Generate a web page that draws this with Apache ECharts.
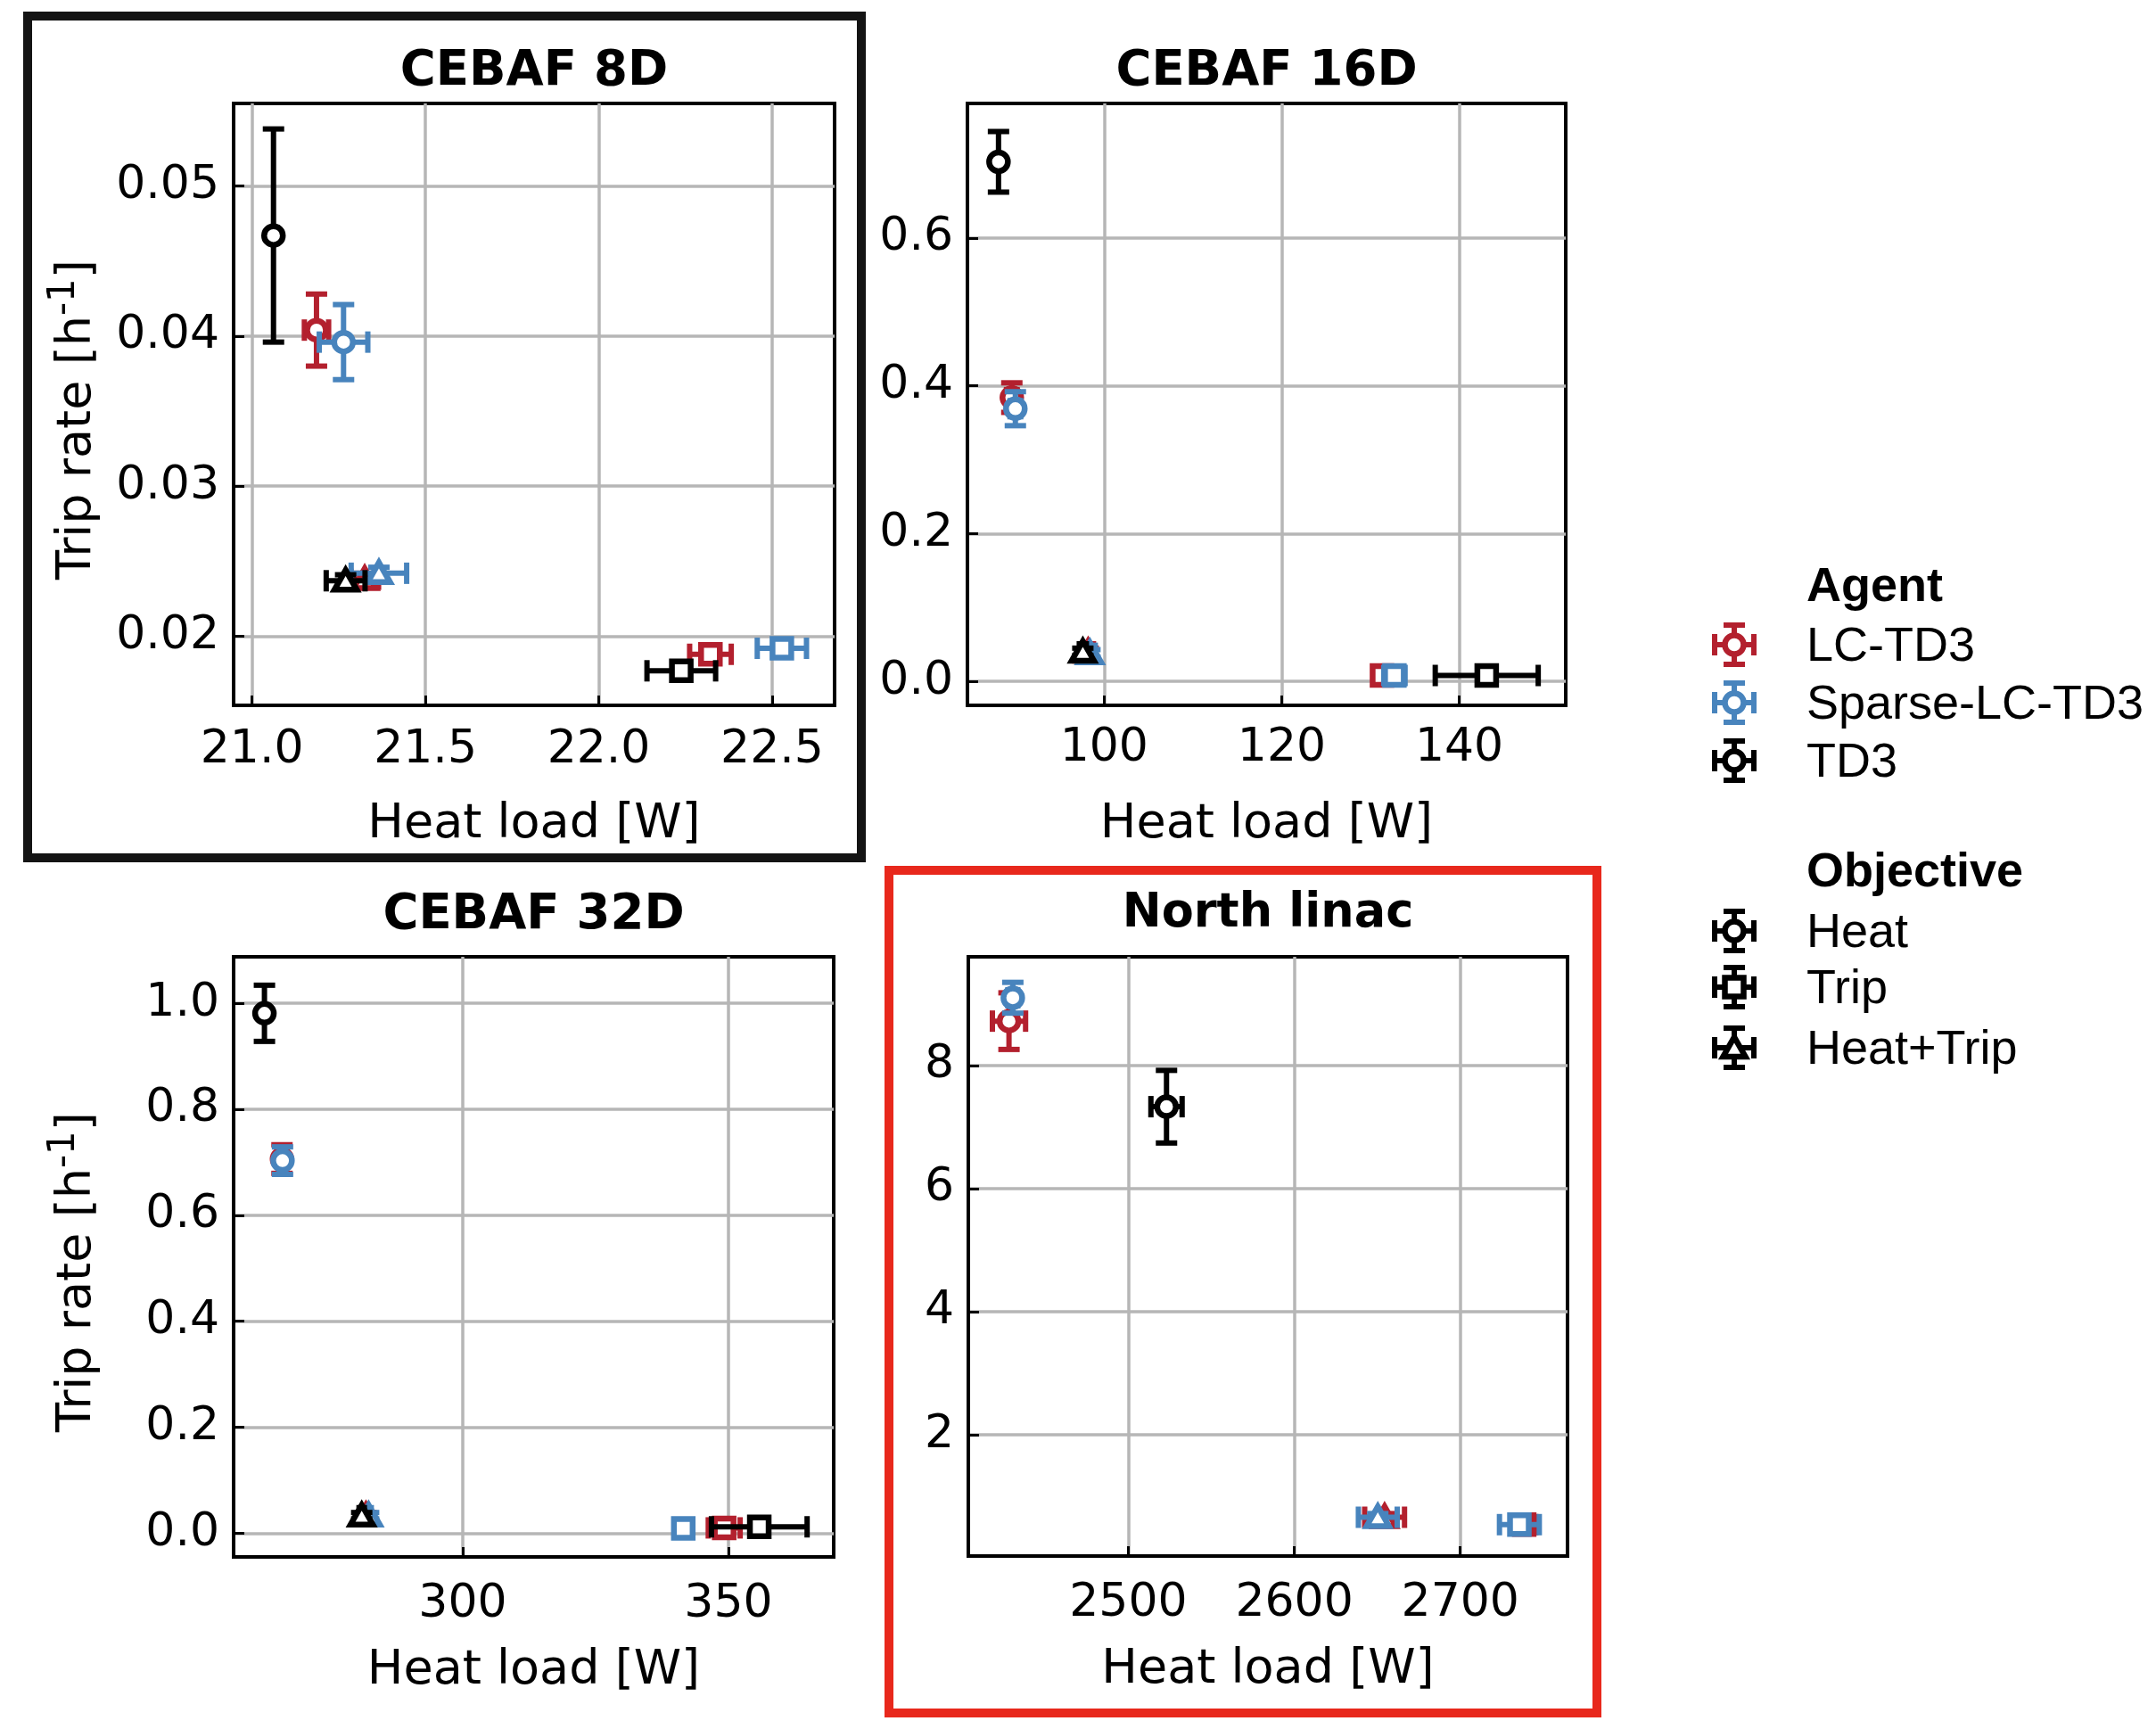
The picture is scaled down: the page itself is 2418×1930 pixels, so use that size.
<!DOCTYPE html>
<html>
<head>
<meta charset="utf-8">
<script src="https://cdn.jsdelivr.net/npm/echarts@6/dist/echarts.min.js"></script>
<style>
  html, body { margin: 0; padding: 0; background: #ffffff; }
  #chart { width: 2418px; height: 1930px; }
</style>
</head>
<body>
<div id="chart"></div>
<script>
// ---- data -------------------------------------------------------------
const AGENTS = ['LC-TD3', 'Sparse-LC-TD3', 'TD3'];
const OBJECTIVES = ['Heat', 'Trip', 'Heat+Trip'];
const PANELS = ['CEBAF 8D', 'CEBAF 16D', 'CEBAF 32D', 'North linac'];

// rows: [heat load (W), trip rate (1/h), heat-load error, trip-rate error]
// row order follows OBJECTIVES: Heat, Trip, Heat+Trip (null = not run)
const cebaf8d_LC       = [[21.186, 0.0404, 0.035, 0.0024], [22.322, 0.0188, 0.060, 0.0004], [21.325, 0.0238, 0.040, 0.0004]];
const cebaf8d_Sparse   = [[21.264, 0.0396, 0.070, 0.0025], [22.528, 0.0192, 0.071, 0.0004], [21.366, 0.0242, 0.080, 0.0004]];
const cebaf8d_TD3      = [[21.062, 0.0467, 0.010, 0.0071], [22.238, 0.0177, 0.099, 0.0004], [21.270, 0.0237, 0.056, 0.0004]];

const cebaf16d_LC      = [[89.6, 0.384, 0.6, 0.020], [131.3, 0.008, 1.0, 0.004], [98.2, 0.040, 0.6, 0.005]];
const cebaf16d_Sparse  = [[90.0, 0.369, 0.6, 0.023], [132.7, 0.008, 1.2, 0.004], [98.4, 0.038, 0.6, 0.005]];
const cebaf16d_TD3     = [[88.1, 0.703, 0.3, 0.041], [143.1, 0.008, 5.8, 0.004], [97.6, 0.040, 0.4, 0.005]];

const cebaf32d_LC      = [[266.0, 0.706, 0.6, 0.027], [349.2, 0.010, 3.0, 0.004], [281.8, 0.033, 0.5, 0.006]];
const cebaf32d_Sparse  = [[266.1, 0.703, 0.6, 0.026], [341.5, 0.009, 0.8, 0.004], [282.3, 0.033, 0.5, 0.006]];
const cebaf32d_TD3     = [[262.7, 0.981, 0.4, 0.053], [355.8, 0.012, 9.0, 0.004], [281.0, 0.033, 0.5, 0.006]];

const northLinac_LC     = [[2428.1, 8.72, 10.0, 0.46], [2738.5, 0.54, 7.0, 0.05], [2654.4, 0.66, 12.0, 0.06]];
const northLinac_Sparse = [[2430.4, 9.10, 3.0, 0.25], [2735.6, 0.54, 12.0, 0.05], [2650.3, 0.66, 11.7, 0.06]];
const northLinac_TD3    = [[2523.0, 7.33, 9.4, 0.59], null, null];

// tick values per panel
const xTicks8d = [21.0, 21.5, 22.0, 22.5];
const yTicks8d = [0.02, 0.03, 0.04, 0.05];
const xTicks16d = [100, 120, 140];
const yTicks16d = [0.0, 0.2, 0.4, 0.6];
const xTicks32d = [300, 350];
const yTicks32d = [0.0, 0.2, 0.4, 0.6, 0.8, 1.0];
const xTicksNL = [2500, 2600, 2700];
const yTicksNL = [2, 4, 6, 8];

// axis extents per panel
const xRange8d = [20.947, 22.68],  yRange8d = [0.0154, 0.0555];
const xRange16d = [84.6, 152.0],   yRange16d = [-0.0324, 0.782];
const xRange32d = [256.9, 369.8],  yRange32d = [-0.0448, 1.0876];
const xRangeNL = [2403.6, 2764.6], yRangeNL = [0.03, 9.765];

// ---- styling ----------------------------------------------------------
const FONT = 'DejaVu Sans';
const LEGEND_FONT = 'Liberation Sans';
const AGENT_COLORS = ['#b3202e', '#4884bd', '#000000'];
const GRID_COLOR = '#b6b6b6';

const panelData = [
  [cebaf8d_LC, cebaf8d_Sparse, cebaf8d_TD3],
  [cebaf16d_LC, cebaf16d_Sparse, cebaf16d_TD3],
  [cebaf32d_LC, cebaf32d_Sparse, cebaf32d_TD3],
  [northLinac_LC, northLinac_Sparse, northLinac_TD3]
];
const panelX = [xTicks8d, xTicks16d, xTicks32d, xTicksNL];
const panelY = [yTicks8d, yTicks16d, yTicks32d, yTicksNL];
const panelXR = [xRange8d, xRange16d, xRange32d, xRangeNL];
const panelYR = [yRange8d, yRange16d, yRange32d, yRangeNL];
const xDecimals = [1, 0, 0, 0];
const yDecimals = [2, 1, 1, 0];

const grids = [
  { left: 262, top: 116, width: 674, height: 675 },
  { left: 1085, top: 116, width: 671, height: 675 },
  { left: 262, top: 1073, width: 673, height: 673 },
  { left: 1086, top: 1073, width: 672, height: 672 }
];
const xNameGap = [107, 107, 101, 101];
const xLabelMargin = [24, 22, 27, 27];
const titleTop = [53, 53, 999, 999];

const MARK_R = 10.5, MARK_LW = 6.5, BAR_LW = 6, CAP = 24;

// hollow marker for an objective
function marker(obj, cx, cy, color) {
  const style = { fill: '#ffffff', stroke: color, lineWidth: MARK_LW };
  if (obj === 0) return { type: 'circle', shape: { cx: cx, cy: cy, r: MARK_R }, style: style };
  if (obj === 1) return { type: 'rect', shape: { x: cx - MARK_R, y: cy - MARK_R, width: 2 * MARK_R, height: 2 * MARK_R }, style: style };
  return { type: 'polygon', shape: { points: [[cx, cy - 12], [cx - 12.5, cy + 10], [cx + 12.5, cy + 10]] }, style: Object.assign({}, style, { lineJoin: 'miter' }) };
}

function seg(x1, y1, x2, y2, color, w) {
  return { type: 'line', shape: { x1: x1, y1: y1, x2: x2, y2: y2 }, style: { stroke: color, lineWidth: w } };
}

// error bars with end caps, followed by the marker
function errorCross(cx, cy, xl, xr, yt, yb, color, obj) {
  const h = CAP / 2;
  const els = [];
  if (xr - xl > 0.5) {
    els.push(seg(xl, cy, xr, cy, color, BAR_LW));
    els.push(seg(xl, cy - h, xl, cy + h, color, BAR_LW));
    els.push(seg(xr, cy - h, xr, cy + h, color, BAR_LW));
  }
  if (yb - yt > 0.5) {
    els.push(seg(cx, yt, cx, yb, color, BAR_LW));
    els.push(seg(cx - h, yt, cx + h, yt, color, BAR_LW));
    els.push(seg(cx - h, yb, cx + h, yb, color, BAR_LW));
  }
  els.push(marker(obj, cx, cy, color));
  return els;
}

function renderPoint(params, api) {
  const x = api.value(0), y = api.value(1), xe = api.value(2), ye = api.value(3), obj = api.value(4);
  const c = api.coord([x, y]);
  const l = api.coord([x - xe, y]), r = api.coord([x + xe, y]);
  const t = api.coord([x, y + ye]), b = api.coord([x, y - ye]);
  const color = api.visual('color');
  return { type: 'group', children: errorCross(c[0], c[1], l[0], r[0], t[1], b[1], color, obj) };
}

// ---- axes, titles, series ---------------------------------------------
const AXIS_LINE = { show: true, onZero: false, lineStyle: { color: '#000', width: 4 } };
const xAxes = [], yAxes = [], titles = [], series = [];
for (let p = 0; p < 4; p++) {
  const g = grids[p];
  xAxes.push({
    type: 'value', gridIndex: p, position: 'bottom',
    min: panelXR[p][0], max: panelXR[p][1],
    name: 'Heat load [W]', nameLocation: 'middle', nameGap: xNameGap[p],
    nameTextStyle: { fontFamily: FONT, fontSize: 54, color: '#000' },
    axisLine: AXIS_LINE,
    axisTick: { show: true, inside: true, length: 11, customValues: panelX[p], lineStyle: { color: '#000', width: 3 } },
    axisLabel: { customValues: panelX[p], margin: xLabelMargin[p], fontFamily: FONT, fontSize: 52, color: '#000',
      formatter: (v) => Number(v).toFixed(xDecimals[p]) },
    splitLine: { show: true, lineStyle: { color: GRID_COLOR, width: 3.5 } }
  });
  const yAx = {
    type: 'value', gridIndex: p, position: 'left',
    min: panelYR[p][0], max: panelYR[p][1],
    axisLine: AXIS_LINE,
    axisTick: { show: true, inside: true, length: 12, customValues: panelY[p], lineStyle: { color: '#000', width: 3 } },
    axisLabel: { customValues: panelY[p], margin: 16, fontFamily: FONT, fontSize: 52, color: '#000',
      formatter: (v) => Number(v).toFixed(yDecimals[p]) },
    splitLine: { show: true, lineStyle: { color: GRID_COLOR, width: 3.5 } }
  };
  if (p === 0 || p === 2) {
    Object.assign(yAx, {
      name: 'Trip rate [h{sup|-1}]', nameLocation: 'middle', nameGap: 139, nameRotate: 90,
      nameTextStyle: {
        fontFamily: FONT, fontSize: 54, color: '#000', lineHeight: 72, padding: [0, 34, 0, 0],
        rich: { sup: { fontFamily: FONT, fontSize: 42, color: '#000', lineHeight: 42, verticalAlign: 'top' } }
      }
    });
  }
  yAxes.push(yAx);
  titles.push({
    text: PANELS[p], left: g.left + g.width / 2, top: titleTop[p], textAlign: 'center', padding: 0,
    textStyle: { fontFamily: FONT, fontSize: p === 3 ? 52.5 : 54.5, fontWeight: 'bold', color: '#000' }
  });
  for (let a = 0; a < AGENTS.length; a++) {
    const rows = panelData[p][a];
    const data = [];
    rows.forEach((row, o) => { if (row) data.push([row[0], row[1], row[2], row[3], o]); });
    series.push({
      type: 'custom', name: PANELS[p] + ' / ' + AGENTS[a],
      xAxisIndex: p, yAxisIndex: p,
      dimensions: ['heat', 'trip', 'heatErr', 'tripErr', 'objective'],
      encode: { x: 0, y: 1 },
      itemStyle: { color: AGENT_COLORS[a] },
      renderItem: renderPoint,
      clip: false,
      data: data
    });
  }
}

// ---- legend (agent colours, objective shapes) and highlight frames ----
const LEG_ICON_X = 1945, LEG_TEXT_X = 2026;
const legendRows = [
  { kind: 'head', text: 'Agent', y: 656 },
  { kind: 'item', text: AGENTS[0], y: 723, color: AGENT_COLORS[0], obj: 0 },
  { kind: 'item', text: AGENTS[1], y: 788, color: AGENT_COLORS[1], obj: 0 },
  { kind: 'item', text: AGENTS[2], y: 853, color: AGENT_COLORS[2], obj: 0 },
  { kind: 'head', text: 'Objective', y: 976 },
  { kind: 'item', text: OBJECTIVES[0], y: 1044, color: '#000', obj: 0 },
  { kind: 'item', text: OBJECTIVES[1], y: 1107, color: '#000', obj: 1 },
  { kind: 'item', text: OBJECTIVES[2], y: 1175, color: '#000', obj: 2 }
];
const graphics = [];
legendRows.forEach(function (row) {
  graphics.push({
    type: 'text', x: LEG_TEXT_X, y: row.y + 3,
    style: { text: row.text, fontFamily: LEGEND_FONT, fontSize: 54, fontWeight: row.kind === 'head' ? 'bold' : 'normal',
      fill: '#000', align: 'left', verticalAlign: 'middle' }
  });
  if (row.kind === 'item') {
    const cx = LEG_ICON_X, cy = row.y;
    graphics.push({ type: 'group', children: errorCross(cx, cy, cx - 22, cx + 22, cy - 22, cy + 22, row.color, row.obj) });
  }
});
graphics.push({ type: 'rect', shape: { x: 31, y: 18, width: 935, height: 944 },
  style: { fill: 'none', stroke: '#141414', lineWidth: 10 }, z: 100 });
graphics.push({ type: 'rect', shape: { x: 997, y: 976, width: 794, height: 945 },
  style: { fill: 'none', stroke: '#e8281c', lineWidth: 10 }, z: 100 });

const chart = echarts.init(document.getElementById('chart'), null, { renderer: 'canvas' });
chart.setOption({
  animation: false,
  backgroundColor: '#ffffff',
  title: titles,
  grid: grids.map(g => Object.assign({ show: true, borderColor: '#000', borderWidth: 4, backgroundColor: 'transparent' }, g)),
  xAxis: xAxes,
  yAxis: yAxes,
  series: series,
  graphic: graphics
});
</script>
</body>
</html>
